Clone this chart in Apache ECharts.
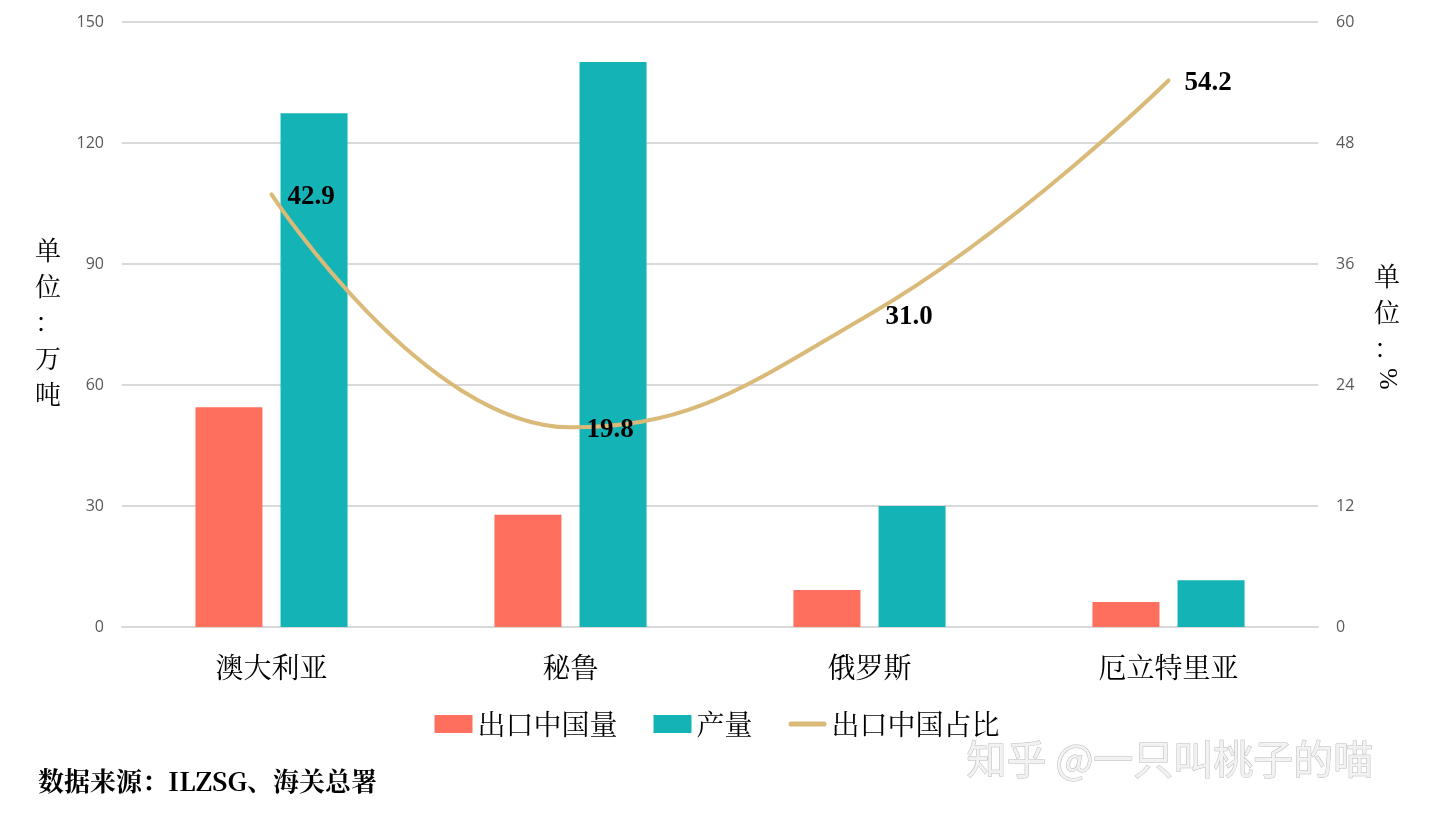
<!DOCTYPE html>
<html>
<head>
<meta charset="utf-8">
<script src="https://cdn.jsdelivr.net/npm/echarts@6/dist/echarts.min.js"></script>
<style>
  html, body { margin: 0; padding: 0; background: #fff; }
  #main { width: 1434px; height: 820px; }
</style>
</head>
<body>
<div id="main"></div>
<script>
const categories = ['澳大利亚', '秘鲁', '俄罗斯', '厄立特里亚']
const exportChina = [54.5, 27.8, 9.2, 6.2]   // 出口中国量，万吨
const output = [127.4, 140.1, 30.0, 11.6]    // 产量，万吨
const shareChina = [42.9, 19.8, 31.0, 54.2]  // 出口中国占比，%

const serif = '"Liberation Serif", "Noto Sans CJK SC", serif'
const cjk = '"Noto Serif CJK SC", "Noto Sans CJK SC", serif'

const chart = echarts.init(document.getElementById('main'))
const option = {
  animation: false,
  grid: { left: 122, right: 116, top: 22, bottom: 193 },
  legend: {
    bottom: 77,
    left: 'center',
    itemWidth: 38,
    itemHeight: 18,
    itemGap: 36,
    textStyle: { fontFamily: cjk, fontSize: 28, color: '#000' },
    data: [
      { name: '出口中国量', icon: 'rect' },
      { name: '产量', icon: 'rect' },
      {
        name: '出口中国占比',
        icon: 'path://M3,0 H41 A3,3 0 0 1 41,6 H3 A3,3 0 0 1 3,0 Z',
        itemStyle: { color: '#D9BA78', opacity: 1 }
      }
    ]
  },
  xAxis: {
    type: 'category',
    data: categories,
    axisLine: { lineStyle: { color: '#d9d9d9', width: 2 } },
    axisTick: { show: false },
    axisLabel: { fontFamily: cjk, fontSize: 28, color: '#000', margin: 26 }
  },
  yAxis: [
    {
      type: 'value', min: 0, max: 150, interval: 30,
      axisLine: { show: false }, axisTick: { show: false },
      splitLine: { lineStyle: { color: '#d9d9d9', width: 2 } },
      axisLabel: { fontSize: 16, color: '#595959', margin: 18, fontFamily: '"Open Sans", sans-serif' }
    },
    {
      type: 'value', min: 0, max: 60, interval: 12,
      axisLine: { show: false }, axisTick: { show: false },
      splitLine: { show: false },
      axisLabel: { fontSize: 16, color: '#595959', margin: 18, fontFamily: '"Open Sans", sans-serif' }
    }
  ],
  series: [
    {
      name: '出口中国量', type: 'bar', data: exportChina,
      barWidth: 67, barGap: '27%',
      itemStyle: { color: '#FF6F5E' }
    },
    {
      name: '产量', type: 'bar', data: output,
      barWidth: 67,
      itemStyle: { color: '#14B4B6' }
    },
    {
      name: '出口中国占比', type: 'line', yAxisIndex: 1, data: shareChina,
      smooth: 0.45, symbol: 'circle', symbolSize: 0, showSymbol: true,
      lineStyle: { color: '#D9BA78', width: 4, cap: 'round' },
      itemStyle: { color: '#D9BA78' },
      label: {
        show: true, position: 'right', distance: 16, offset: [0, 3],
        formatter: p => p.value.toFixed(1),
        fontFamily: serif, fontWeight: 'bold', fontSize: 27, color: '#000'
      },
      z: 5
    }
  ],
  graphic: [
    {
      type: 'text', left: 35, top: 232,
      style: { text: '单\n位\n：\n万\n吨', fontFamily: cjk, fontSize: 26, lineHeight: 36, fill: '#000' }
    },
    {
      type: 'text', left: 1374, top: 258,
      style: { text: '单\n位\n：', fontFamily: cjk, fontSize: 26, lineHeight: 36, fill: '#000' }
    },
    {
      type: 'text', x: 1400, y: 368, rotation: -Math.PI / 2,
      style: { text: '%', fontFamily: serif, fontSize: 26, fill: '#000' }
    },
    {
      type: 'text', left: 38, top: 768,
      style: { text: '数据来源：ILZSG、海关总署', fontFamily: cjk, fontWeight: 'bold', fontSize: 26, fill: '#000' }
    },
    {
      type: 'text', left: 966, top: 738,
      style: {
        text: '知乎 @一只叫桃子的喵', fontFamily: '"Noto Sans CJK SC", sans-serif', fontSize: 40,
        fill: '#f2f2f2', stroke: '#b8b8b8', lineWidth: 1,
        shadowColor: 'rgba(0,0,0,0.25)', shadowOffsetX: 2, shadowOffsetY: 2, shadowBlur: 2
      }
    }
  ]
}
chart.setOption(option)
</script>
</body>
</html>
